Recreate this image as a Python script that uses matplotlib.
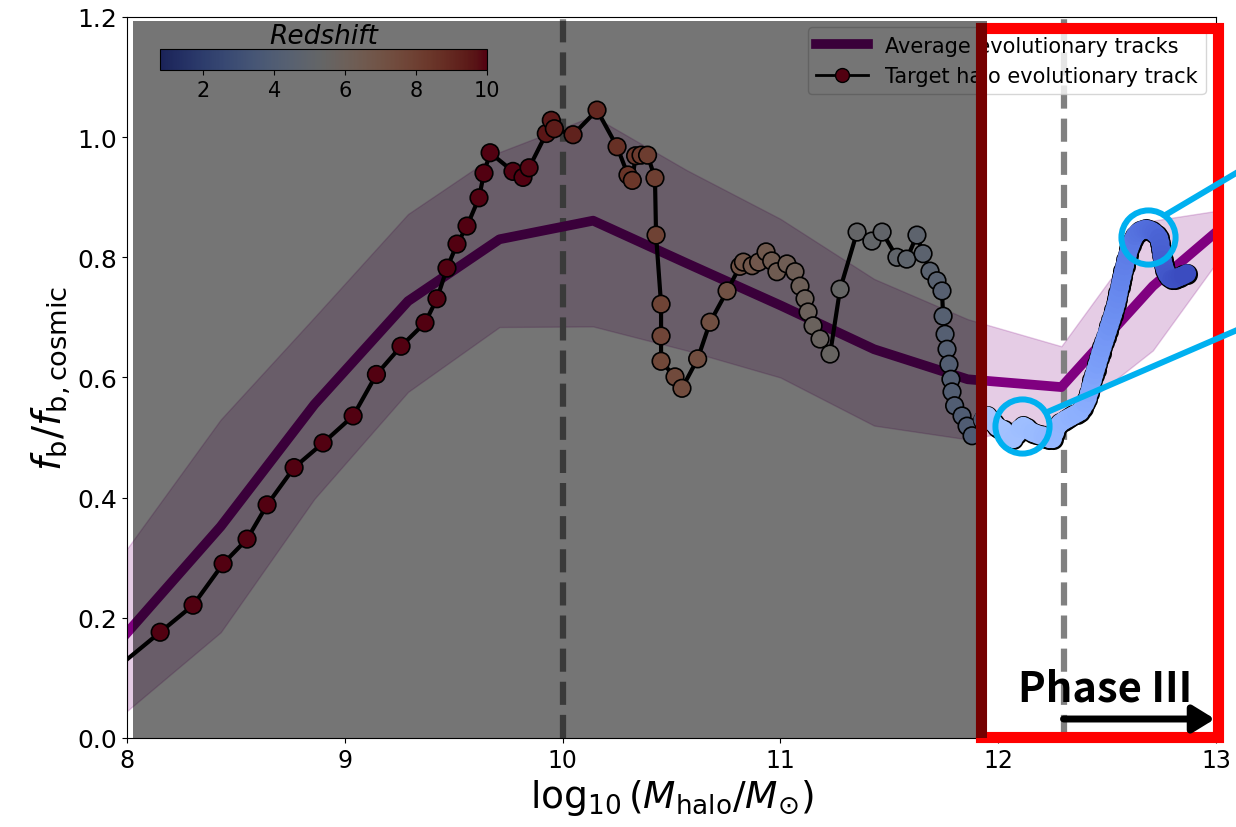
import numpy as np
import matplotlib
matplotlib.use("Agg")
from matplotlib import pyplot as plt
from matplotlib.patches import Rectangle
from matplotlib.lines import Line2D
from matplotlib.colors import Normalize

matplotlib.rcParams['font.size'] = 16

# binned average track and its scatter band
avg_mass = [8.0, 8.43, 8.86, 9.29, 9.71, 10.14, 10.57, 11.0, 11.43, 11.86, 12.29, 12.71, 13.14]
avg_fb = [0.175, 0.352, 0.555, 0.727, 0.830, 0.861, 0.790, 0.720, 0.647, 0.597, 0.584, 0.752, 0.885]
avg_hi = [0.315, 0.530, 0.700, 0.872, 0.975, 1.035, 0.945, 0.864, 0.764, 0.697, 0.652, 0.861, 0.885]
avg_lo = [0.045, 0.176, 0.398, 0.576, 0.684, 0.685, 0.645, 0.600, 0.520, 0.497, 0.525, 0.645, 0.860]

# target halo, one entry per snapshot
halo_mass = [7.93, 8.152, 8.303, 8.441, 8.551, 8.643, 8.767, 8.900, 9.038, 9.145,
             9.258, 9.368, 9.423, 9.469, 9.515, 9.561, 9.616, 9.639, 9.667, 9.772,
             9.818, 9.846, 9.925, 9.948, 9.962, 10.048, 10.158, 10.25, 10.30, 10.32,
             10.335, 10.36, 10.39, 10.424, 10.429, 10.452, 10.452, 10.452, 10.516, 10.548,
             10.62, 10.677, 10.755, 10.814, 10.83, 10.87, 10.90, 10.934, 10.96, 10.984,
             11.03, 11.067, 11.09, 11.113, 11.127, 11.15, 11.182, 11.228, 11.274, 11.352,
             11.42, 11.467, 11.535, 11.58, 11.627, 11.655, 11.687, 11.719, 11.742, 11.747,
             11.756, 11.765, 11.774, 11.783, 11.788, 11.80, 11.834, 11.857, 11.88,
             11.93, 11.95, 11.965, 11.98, 11.995, 12.01, 12.025, 12.04, 12.055, 12.07,
             12.085, 12.10, 12.115, 12.13, 12.145, 12.16, 12.175, 12.19, 12.205, 12.22,
             12.235, 12.25, 12.26, 12.27, 12.285, 12.30, 12.315, 12.33, 12.345, 12.36,
             12.375, 12.388, 12.40, 12.41, 12.418, 12.425, 12.433, 12.44, 12.447, 12.455,
             12.463, 12.47, 12.478, 12.486, 12.494, 12.502, 12.51, 12.518, 12.526, 12.534,
             12.541, 12.547, 12.552, 12.558, 12.563, 12.569, 12.575, 12.581, 12.587, 12.594,
             12.601, 12.609, 12.618, 12.628, 12.64, 12.652, 12.665, 12.678, 12.691, 12.704,
             12.716, 12.728, 12.738, 12.744, 12.748, 12.751, 12.755, 12.76, 12.767, 12.775,
             12.785, 12.797, 12.81, 12.823, 12.836, 12.85, 12.866]
halo_fb = [0.110, 0.176, 0.221, 0.290, 0.331, 0.388, 0.450, 0.491, 0.536, 0.605,
           0.652, 0.691, 0.731, 0.782, 0.822, 0.852, 0.899, 0.940, 0.974, 0.943,
           0.933, 0.949, 1.006, 1.028, 1.014, 1.004, 1.045, 0.984, 0.937, 0.928,
           0.969, 0.970, 0.970, 0.932, 0.837, 0.722, 0.669, 0.627, 0.601, 0.582,
           0.631, 0.692, 0.744, 0.785, 0.792, 0.786, 0.792, 0.809, 0.794, 0.776,
           0.789, 0.776, 0.752, 0.731, 0.709, 0.686, 0.664, 0.639, 0.747, 0.842,
           0.827, 0.842, 0.800, 0.797, 0.837, 0.806, 0.777, 0.761, 0.744, 0.702,
           0.672, 0.647, 0.622, 0.597, 0.576, 0.553, 0.536, 0.519, 0.503,
           0.530, 0.536, 0.530, 0.524, 0.518, 0.515, 0.512, 0.506, 0.500, 0.498,
           0.506, 0.515, 0.519, 0.516, 0.511, 0.508, 0.506, 0.504, 0.503, 0.500,
           0.498, 0.498, 0.508, 0.518, 0.524, 0.528, 0.531, 0.534, 0.537, 0.540,
           0.543, 0.550, 0.557, 0.565, 0.575, 0.585, 0.595, 0.604, 0.613, 0.622,
           0.632, 0.641, 0.650, 0.659, 0.668, 0.677, 0.686, 0.695, 0.704, 0.713,
           0.722, 0.731, 0.740, 0.750, 0.759, 0.768, 0.777, 0.786, 0.795, 0.804,
           0.813, 0.821, 0.829, 0.836, 0.841, 0.844, 0.846, 0.847, 0.846, 0.844,
           0.841, 0.837, 0.832, 0.824, 0.814, 0.804, 0.795, 0.787, 0.779, 0.772,
           0.767, 0.764, 0.764, 0.766, 0.768, 0.770, 0.773]
halo_z = [20.0, 18.5, 17.5, 16.6, 15.9, 15.2, 14.6, 14.0, 13.5, 13.0,
          12.6, 12.2, 11.9, 11.6, 11.3, 11.0, 10.8, 10.6, 10.4, 10.2,
          10.0, 9.9, 9.6, 9.5, 9.4, 9.2, 9.0, 8.7, 8.5, 8.4,
          8.3, 8.2, 8.1, 8.0, 7.9, 7.8, 7.7, 7.6, 7.5, 7.4,
          7.3, 7.2, 7.1, 7.0, 6.9, 6.8, 6.7, 6.6, 6.5, 6.4,
          6.3, 6.2, 6.1, 6.0, 5.9, 5.8, 5.7, 5.6, 5.4, 5.3,
          5.2, 5.1, 5.0, 4.9, 4.8, 4.7, 4.6, 4.5, 4.4, 4.35,
          4.3, 4.25, 4.2, 4.15, 4.1, 4.05, 4.0, 3.95, 3.9,
          3.85, 3.82, 3.80, 3.77, 3.75, 3.72, 3.70, 3.67, 3.65, 3.62,
          3.60, 3.57, 3.55, 3.52, 3.50, 3.47, 3.45, 3.42, 3.40, 3.37,
          3.35, 3.32, 3.30, 3.27, 3.25, 3.22, 3.20, 3.17, 3.15, 3.12,
          3.10, 3.05, 3.00, 2.95, 2.90, 2.85, 2.80, 2.75, 2.70, 2.65,
          2.60, 2.56, 2.52, 2.48, 2.44, 2.40, 2.36, 2.32, 2.28, 2.24,
          2.20, 2.16, 2.12, 2.08, 2.04, 2.00, 1.96, 1.92, 1.88, 1.84,
          1.80, 1.76, 1.72, 1.68, 1.64, 1.60, 1.56, 1.52, 1.48, 1.44,
          1.40, 1.36, 1.32, 1.28, 1.24, 1.20, 1.16, 1.12, 1.08, 1.04,
          1.00, 0.96, 0.92, 0.88, 0.84, 0.81, 0.78]

z_ticks = [2, 4, 6, 8, 10]
phase_lines = [10.0, 12.3]

halo_mass = np.array(halo_mass)
halo_fb = np.array(halo_fb)
halo_z = np.array(halo_z)
norm = Normalize(vmin=0.78, vmax=10)
cmap = plt.cm.coolwarm

fig = plt.figure(figsize=(12.36, 8.28), dpi=100)
ax = fig.add_axes([0.1028, 0.1075, 0.881, 0.8708])

ax.fill_between(avg_mass, avg_lo, avg_hi, facecolor='purple', edgecolor='purple',
                alpha=0.2, lw=1, zorder=1)
for xv in phase_lines:
    ax.axvline(xv, color='gray', ls='--', lw=4.5, zorder=1.5)
ax.plot(avg_mass, avg_fb, color='purple', lw=7, zorder=2)
ax.plot(halo_mass, halo_fb, color='black', lw=3, zorder=3)

# sparse early snapshots: individual outlined markers
early = halo_mass < 11.9
sc = ax.scatter(halo_mass[early], halo_fb[early], c=halo_z[early], cmap=cmap, norm=norm,
                s=160, edgecolors='black', linewidths=1.2, zorder=4)
# dense late snapshots: one outline under the faces so they merge into a band
late = ~early
ax.scatter(halo_mass[late], halo_fb[late], color='black', s=230, linewidths=0, zorder=4)
ax.scatter(halo_mass[late], halo_fb[late], c=halo_z[late], cmap=cmap, norm=norm,
           s=180, linewidths=0, zorder=4.1)

ax.set_xlim(8, 13)
ax.set_ylim(0, 1.2)
ax.set_xticks([8, 9, 10, 11, 12, 13])
ax.set_yticks([0.0, 0.2, 0.4, 0.6, 0.8, 1.0, 1.2])
ax.tick_params(axis='x', labelsize=17)
ax.tick_params(axis='y', labelsize=18)
ax.set_xlabel(r'$\log_{10}(M_{\rm halo}/M_{\odot})$', fontsize=27)
ax.set_ylabel(r'$f_{\rm b}/f_{\rm b,cosmic}$', fontsize=28)

handles = [Line2D([], [], color='purple', lw=7),
           Line2D([], [], color='black', lw=2, marker='o', ms=10,
                  mfc=cmap(1.0), mec='black')]
ax.legend(handles, ['Average evolutionary tracks', 'Target halo evolutionary track'],
          loc='upper right', fontsize=15, handlelength=2.5)

cax = ax.inset_axes([0.0303, 0.9265, 0.3003, 0.029])
cb = fig.colorbar(sc, cax=cax, orientation='horizontal', ticks=z_ticks)
cb.ax.tick_params(labelsize=15)
cax.set_title('Redshift', fontsize=19, style='italic', pad=2)

# phase III box, and the shaded earlier phases
ax.add_patch(Rectangle((11.921, 0.002), 13.009 - 11.921, 1.180, fill=False,
                       edgecolor='red', lw=8, zorder=5.5, clip_on=False))
ax.add_patch(Rectangle((8.027, 0.0), 11.949 - 8.027, 1.193, facecolor='black',
                       alpha=0.54, lw=0, zorder=6))

ax.text(12.49, 0.062, 'Phase III', fontsize=30, fontweight='bold', ha='center',
        va='baseline', family=['Noto Sans CJK KR', 'DejaVu Sans'], zorder=7)
ax.annotate('', xy=(12.995, 0.0316), xytext=(12.30, 0.0316),
            arrowprops=dict(arrowstyle='-|>,head_length=0.65,head_width=0.4', lw=5,
                            color='black', shrinkA=0, shrinkB=0, mutation_scale=20),
            zorder=7)

# callouts
cyan = '#00b0f0'
for cx, cy in [(12.688, 0.834), (12.109, 0.519)]:
    ax.plot([cx], [cy], 'o', ms=39, mfc='none', mec=cyan, mew=4.3, zorder=8, clip_on=False)
ax.plot([12.775, 13.11], [0.872, 0.944], color=cyan, lw=4.3, zorder=8, clip_on=False)
ax.plot([12.229, 13.11], [0.543, 0.681], color=cyan, lw=4.3, zorder=8, clip_on=False)

fig.savefig('out.png', dpi=100)
